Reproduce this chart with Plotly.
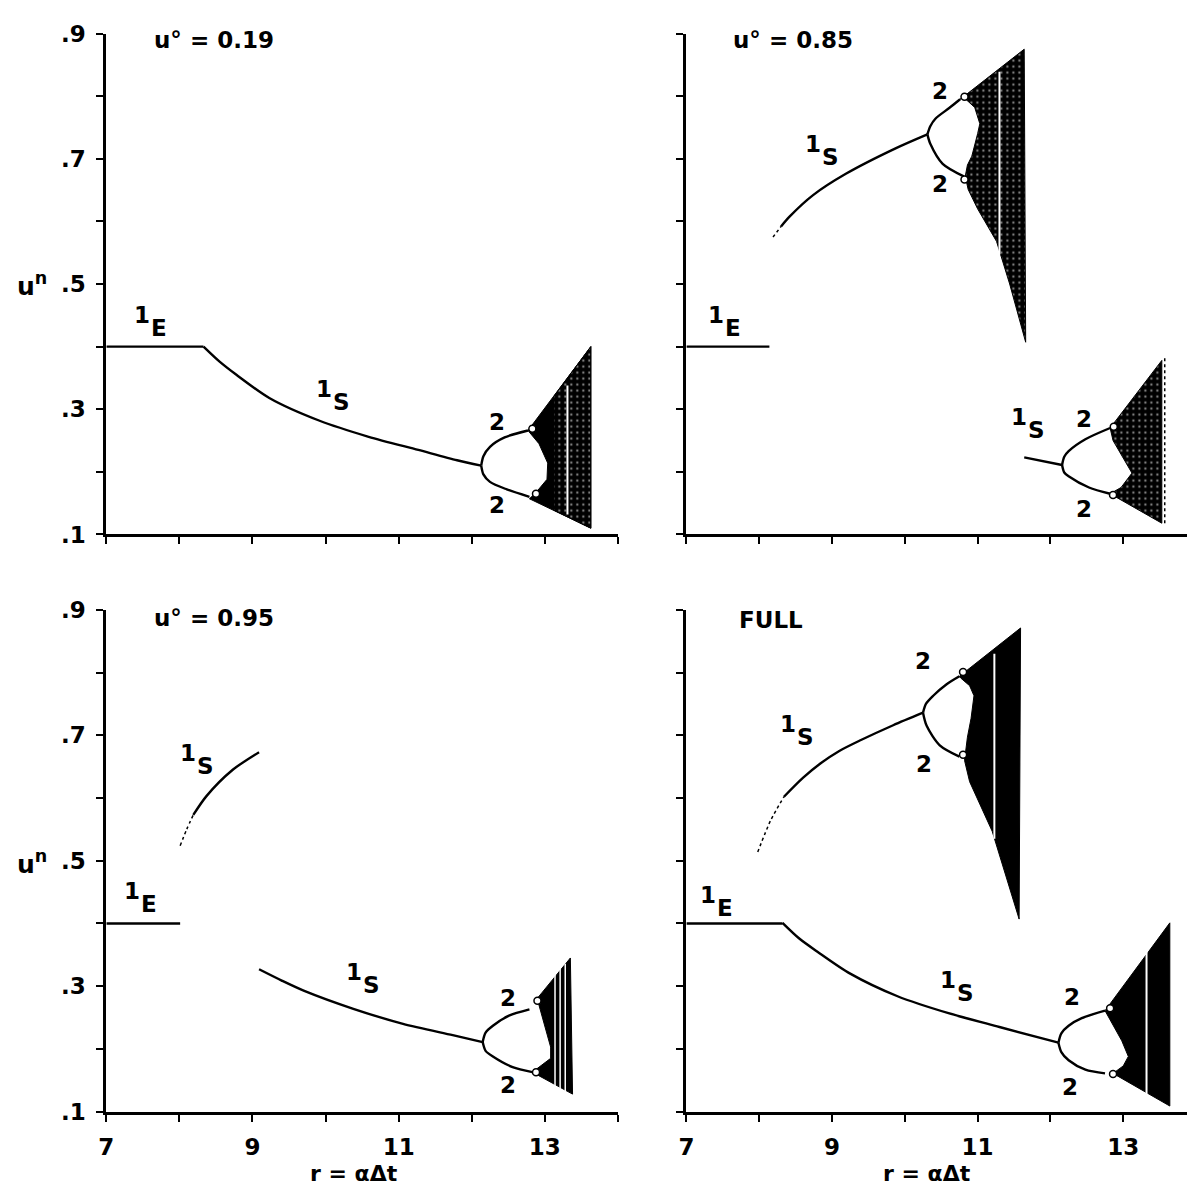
import plotly.graph_objects as go

W, H = 1187, 1201

# ---------------- panel A : u0 = 0.19 ----------------
a_eq_r = [7.0, 8.33]
a_eq_u = [0.40, 0.40]
a_s1_r = [8.33, 8.55, 8.78, 9.23, 9.91, 10.59, 11.27, 11.80, 12.13]
a_s1_u = [0.400, 0.376, 0.355, 0.318, 0.282, 0.256, 0.235, 0.2185, 0.210]
a_p2hi_r = [12.13, 12.16, 12.25, 12.45, 12.77]
a_p2hi_u = [0.210, 0.225, 0.240, 0.255, 0.266]
a_p2lo_r = [12.13, 12.16, 12.25, 12.48, 12.79]
a_p2lo_u = [0.210, 0.196, 0.184, 0.172, 0.160]
a_band_r = [12.77, 13.63, 13.63, 12.79, 12.88, 13.03, 13.04, 12.92, 12.77]
a_band_u = [0.266, 0.400, 0.110, 0.157, 0.167, 0.188, 0.214, 0.245, 0.266]
a_speck_r = [13.12, 13.63, 13.63, 13.12, 13.12]
a_speck_u = [0.320, 0.400, 0.110, 0.139, 0.320]
a_gap_r = [13.31, 13.31]
a_gap_u = [0.132, 0.338]
a_bub_r = [12.83, 12.88]
a_bub_u = [0.269, 0.165]

# ---------------- panel B : u0 = 0.85 ----------------
b_eq_r = [7.0, 8.14]
b_eq_u = [0.40, 0.40]
b_s1dot_r = [8.19, 8.30]
b_s1dot_u = [0.575, 0.592]
b_s1_r = [8.30, 8.42, 8.74, 9.19, 9.88, 10.31]
b_s1_u = [0.592, 0.608, 0.642, 0.676, 0.717, 0.739]
b_p2hi_r = [10.31, 10.35, 10.42, 10.61, 10.76]
b_p2hi_u = [0.739, 0.752, 0.764, 0.781, 0.795]
b_p2lo_r = [10.31, 10.35, 10.52, 10.81]
b_p2lo_u = [0.739, 0.724, 0.692, 0.672]
b_band_r = [10.76, 11.64, 11.66, 11.44, 11.26, 11.00, 10.87, 10.83, 10.86, 10.92, 11.00, 11.03, 10.96, 10.80, 10.76]
b_band_u = [0.795, 0.875, 0.407, 0.500, 0.568, 0.620, 0.651, 0.672, 0.690, 0.704, 0.740, 0.756, 0.782, 0.799, 0.795]
b_gap_r = [11.30, 11.30]
b_gap_u = [0.547, 0.839]
b_bub_r = [10.82, 10.82]
b_bub_u = [0.799, 0.667]
b_s1b_r = [11.64, 12.16]
b_s1b_u = [0.223, 0.211]
b_q2hi_r = [12.16, 12.19, 12.25, 12.48, 12.82]
b_q2hi_u = [0.211, 0.224, 0.233, 0.252, 0.270]
b_q2lo_r = [12.16, 12.19, 12.25, 12.53, 12.82]
b_q2lo_u = [0.211, 0.199, 0.193, 0.175, 0.165]
b_band2_r = [12.82, 13.53, 13.53, 12.82, 12.97, 13.12, 12.86, 12.82]
b_band2_u = [0.270, 0.378, 0.118, 0.165, 0.175, 0.198, 0.250, 0.270]
b_edge2_r = [13.57, 13.57]
b_edge2_u = [0.118, 0.385]
b_bub2_r = [12.87, 12.86]
b_bub2_u = [0.272, 0.163]

# ---------------- panel C : u0 = 0.95 ----------------
c_eq_r = [7.0, 8.01]
c_eq_u = [0.40, 0.40]
c_s1dot_r = [8.01, 8.10, 8.19]
c_s1dot_u = [0.524, 0.550, 0.573]
c_s1_r = [8.19, 8.37, 8.73, 9.09]
c_s1_u = [0.573, 0.603, 0.645, 0.673]
c_s1b_r = [9.09, 9.40, 9.70, 10.38, 11.06, 11.74, 12.15]
c_s1b_u = [0.327, 0.309, 0.293, 0.264, 0.240, 0.222, 0.211]
c_p2hi_r = [12.15, 12.19, 12.29, 12.51, 12.79]
c_p2hi_u = [0.211, 0.226, 0.237, 0.253, 0.263]
c_p2lo_r = [12.15, 12.19, 12.29, 12.56, 12.83]
c_p2lo_u = [0.211, 0.197, 0.188, 0.171, 0.163]
c_band_r = [12.90, 13.35, 13.38, 12.83, 13.08, 13.08, 12.92, 12.90]
c_band_u = [0.281, 0.345, 0.128, 0.163, 0.185, 0.203, 0.270, 0.281]
c_gap_r = [13.14, 13.14, None, 13.21, 13.21, None, 13.28, 13.28]
c_gap_u = [0.140, 0.318, None, 0.137, 0.328, None, 0.133, 0.336]
c_bub_r = [12.90, 12.88]
c_bub_u = [0.277, 0.163]

# ---------------- panel D : full ----------------
d_eq_r = [7.0, 8.32]
d_eq_u = [0.40, 0.40]
d_s1_r = [8.32, 8.55, 8.80, 9.25, 9.90, 10.60, 11.30, 12.11]
d_s1_u = [0.401, 0.376, 0.355, 0.320, 0.284, 0.257, 0.235, 0.210]
d_p2hi_r = [12.11, 12.15, 12.25, 12.43, 12.75]
d_p2hi_u = [0.210, 0.225, 0.237, 0.249, 0.261]
d_p2lo_r = [12.11, 12.15, 12.25, 12.48, 12.75]
d_p2lo_u = [0.210, 0.195, 0.182, 0.167, 0.161]
d_band_r = [12.75, 13.64, 13.64, 12.86, 13.00, 13.07, 12.98, 12.77, 12.75]
d_band_u = [0.261, 0.401, 0.109, 0.161, 0.173, 0.188, 0.213, 0.255, 0.261]
d_gap_r = [13.32, 13.32]
d_gap_u = [0.125, 0.360]
d_bub_r = [12.82, 12.86]
d_bub_u = [0.265, 0.160]
d_updot_r = [7.98, 8.16, 8.34]
d_updot_u = [0.514, 0.565, 0.602]
d_up_r = [8.34, 8.60, 8.84, 9.10, 9.39, 9.84, 10.25]
d_up_u = [0.602, 0.632, 0.655, 0.675, 0.692, 0.716, 0.736]
d_q2hi_r = [10.25, 10.29, 10.39, 10.57, 10.75]
d_q2hi_u = [0.736, 0.750, 0.763, 0.781, 0.794]
d_q2lo_r = [10.25, 10.30, 10.48, 10.75]
d_q2lo_u = [0.736, 0.715, 0.684, 0.666]
d_band2_r = [10.75, 11.59, 11.57, 11.20, 10.89, 10.82, 10.86, 10.91, 10.95, 10.89, 10.77, 10.75]
d_band2_u = [0.794, 0.871, 0.407, 0.547, 0.626, 0.660, 0.697, 0.727, 0.763, 0.779, 0.791, 0.794]
d_gap2_r = [11.23, 11.23]
d_gap2_u = [0.535, 0.830]
d_bub2_r = [10.80, 10.80]
d_bub2_u = [0.801, 0.669]

# ---------------- branch labels: (text, subscript, r, u) ----------------
a_labels = [("1", "E", 7.49, 0.450), ("1", "S", 9.98, 0.333),
            ("2", "", 12.34, 0.279), ("2", "", 12.34, 0.147)]
b_labels = [("1", "S", 8.74, 0.724), ("2", "", 10.49, 0.808), ("2", "", 10.49, 0.660),
            ("1", "E", 7.41, 0.450), ("1", "S", 11.57, 0.287),
            ("2", "", 12.46, 0.284), ("2", "", 12.46, 0.141)]
c_labels = [("1", "S", 8.12, 0.672), ("1", "E", 7.35, 0.452), ("1", "S", 10.39, 0.322),
            ("2", "", 12.49, 0.281), ("2", "", 12.49, 0.143)]
d_labels = [("1", "S", 8.39, 0.718), ("2", "", 10.25, 0.818), ("2", "", 10.27, 0.654),
            ("1", "E", 7.30, 0.445), ("1", "S", 10.59, 0.310),
            ("2", "", 12.30, 0.283), ("2", "", 12.27, 0.140)]

panel_titles = ["u° = 0.19", "u° = 0.85", "u° = 0.95", "FULL"]
y_major = [0.1, 0.3, 0.5, 0.7, 0.9]
y_major_text = [".1", ".3", ".5", ".7", ".9"]
y_minor = [0.2, 0.4, 0.6, 0.8]
y_all = [0.1, 0.2, 0.3, 0.4, 0.5, 0.6, 0.7, 0.8, 0.9]
x_major = [7, 9, 11, 13]
x_major_text = ["7", "9", "11", "13"]
x_minor = [8, 10, 12, 14]
x_all = [7, 8, 9, 10, 11, 12, 13, 14]

FONT = "DejaVu Sans, Liberation Sans, Arial, sans-serif"
INK = "black"

fig = go.Figure()


def line(r, u, ax, width=2.4, dash="solid", shape="spline"):
    style = dict(color=INK, width=width, dash=dash, shape=shape)
    if shape == "spline":
        style["smoothing"] = 0.8
    fig.add_trace(go.Scatter(x=r, y=u, xaxis=ax[0], yaxis=ax[1], mode="lines",
                             line=style, hoverinfo="skip", showlegend=False))


def band(r, u, ax, speckle=False):
    kw = {}
    if speckle:
        kw["fillpattern"] = dict(shape=".", fgcolor="white", bgcolor=INK,
                                 size=6, solidity=0.12)
    fig.add_trace(go.Scatter(x=r, y=u, xaxis=ax[0], yaxis=ax[1], mode="lines",
                             fill="toself", fillcolor=INK,
                             line=dict(color=INK, width=1),
                             hoverinfo="skip", showlegend=False, **kw))


def gap(r, u, ax, width=2.0, color="white", dash="solid"):
    fig.add_trace(go.Scatter(x=r, y=u, xaxis=ax[0], yaxis=ax[1], mode="lines",
                             line=dict(color=color, width=width, dash=dash),
                             hoverinfo="skip", showlegend=False))


def bubbles(r, u, ax, size=7):
    fig.add_trace(go.Scatter(x=r, y=u, xaxis=ax[0], yaxis=ax[1], mode="markers",
                             marker=dict(symbol="circle", size=size, color="white",
                                         line=dict(color=INK, width=1.5)),
                             hoverinfo="skip", showlegend=False))


A = ("x", "y")
B = ("x2", "y2")
C = ("x3", "y3")
D = ("x4", "y4")

# panel A
line(a_eq_r, a_eq_u, A, shape="linear")
line(a_s1_r, a_s1_u, A)
line(a_p2hi_r, a_p2hi_u, A)
line(a_p2lo_r, a_p2lo_u, A)
band(a_band_r, a_band_u, A)
band(a_speck_r, a_speck_u, A, speckle=True)
gap(a_gap_r, a_gap_u, A)
bubbles(a_bub_r, a_bub_u, A)

# panel B
line(b_eq_r, b_eq_u, B, shape="linear")
line(b_s1dot_r, b_s1dot_u, B, width=1.5, dash="dot")
line(b_s1_r, b_s1_u, B)
line(b_p2hi_r, b_p2hi_u, B)
line(b_p2lo_r, b_p2lo_u, B)
band(b_band_r, b_band_u, B, speckle=True)
gap(b_gap_r, b_gap_u, B)
bubbles(b_bub_r, b_bub_u, B)
line(b_s1b_r, b_s1b_u, B, shape="linear")
line(b_q2hi_r, b_q2hi_u, B)
line(b_q2lo_r, b_q2lo_u, B)
band(b_band2_r, b_band2_u, B, speckle=True)
gap(b_edge2_r, b_edge2_u, B, width=1.5, color=INK, dash="dot")
bubbles(b_bub2_r, b_bub2_u, B)

# panel C
line(c_eq_r, c_eq_u, C, shape="linear")
line(c_s1dot_r, c_s1dot_u, C, width=1.5, dash="dot")
line(c_s1_r, c_s1_u, C)
line(c_s1b_r, c_s1b_u, C)
line(c_p2hi_r, c_p2hi_u, C)
line(c_p2lo_r, c_p2lo_u, C)
band(c_band_r, c_band_u, C)
gap(c_gap_r, c_gap_u, C, width=1.5)
bubbles(c_bub_r, c_bub_u, C)

# panel D
line(d_eq_r, d_eq_u, D, shape="linear")
line(d_s1_r, d_s1_u, D)
line(d_p2hi_r, d_p2hi_u, D)
line(d_p2lo_r, d_p2lo_u, D)
band(d_band_r, d_band_u, D)
gap(d_gap_r, d_gap_u, D)
bubbles(d_bub_r, d_bub_u, D)
line(d_updot_r, d_updot_u, D, width=1.5, dash="dot")
line(d_up_r, d_up_u, D)
line(d_q2hi_r, d_q2hi_u, D)
line(d_q2lo_r, d_q2lo_u, D)
band(d_band2_r, d_band2_u, D)
gap(d_gap2_r, d_gap2_u, D)
bubbles(d_bub2_r, d_bub2_u, D)


# ---------------- axes ----------------
def px_x(p):
    return p / W


def px_y(p):
    return 1 - p / H


left_dom = [px_x(99), px_x(614)]
right_dom = [px_x(683), 1.0]
right_range = [7, 7 + (W - 683) / 73.3]
top_dom = [px_y(533), px_y(21)]
bot_dom = [px_y(1123), px_y(610)]

tick_font = dict(family=FONT, size=23, color=INK, weight="bold")
tick_style = dict(ticks="outside", ticklen=7, tickwidth=2, tickcolor=INK)


def axis(domain, rng, anchor, major, major_text, minor, every, labels):
    base = dict(domain=domain, range=rng, anchor=anchor, showline=True,
                linecolor=INK, linewidth=3, tickmode="array",
                showgrid=False, zeroline=False, fixedrange=True)
    if labels:
        base.update(tickvals=major, ticktext=major_text,
                    minor=dict(tickmode="array", tickvals=minor, **tick_style),
                    tickfont=tick_font, ticklabelstandoff=6, **tick_style)
    else:
        # unlabelled axis: every tick mark comes from the minor set
        base.update(tickvals=[], showticklabels=False,
                    minor=dict(tickmode="array", tickvals=every, **tick_style))
    return base


def xax(domain, rng, anchor, labels):
    return axis(domain, rng, anchor, x_major, x_major_text, x_minor, x_all, labels)


def yax(domain, anchor, labels):
    return axis(domain, [0.1, 0.9], anchor, y_major, y_major_text, y_minor, y_all, labels)


fig.update_layout(
    width=W, height=H, margin=dict(l=0, r=0, t=0, b=0),
    paper_bgcolor="white", plot_bgcolor="white", showlegend=False,
    xaxis=xax(left_dom, [7, 14], "y", False),
    yaxis=yax(top_dom, "x", True),
    xaxis2=xax(right_dom, right_range, "y2", False),
    yaxis2=yax(top_dom, "x2", False),
    xaxis3=xax(left_dom, [7, 14], "y3", True),
    yaxis3=yax(bot_dom, "x3", True),
    xaxis4=xax(right_dom, right_range, "y4", True),
    yaxis4=yax(bot_dom, "x4", False),
)

ann = []
label_font = dict(family=FONT, size=23, color=INK, weight="bold")

for labels, ax in ((a_labels, A), (b_labels, B), (c_labels, C), (d_labels, D)):
    for main, sub, r, u in labels:
        ann.append(dict(x=r, y=u, xref=ax[0], yref=ax[1], text=main, showarrow=False,
                        font=label_font, xanchor="center", yanchor="middle"))
        if sub:
            ann.append(dict(x=r, y=u, xref=ax[0], yref=ax[1], text=sub, showarrow=False,
                            font=label_font, xanchor="left", yanchor="middle",
                            xshift=7, yshift=-13))

title_pos = [(207, 28), (790, 28), (207, 618), (768, 620)]
for txt, (px, py) in zip(panel_titles, title_pos):
    ann.append(dict(x=px_x(px), y=px_y(py), xref="paper", yref="paper", text=txt,
                    showarrow=False, font=dict(family=FONT, size=23, color=INK, weight="bold"),
                    xanchor="center", yanchor="middle"))

for py in (277, 868):
    ann.append(dict(x=px_x(24), y=px_y(py), xref="paper", yref="paper",
                    text="u<sup>n</sup>", showarrow=False,
                    font=dict(family=FONT, size=25, color=INK, weight="bold"),
                    xanchor="center", yanchor="middle"))

for px in (348, 925):
    ann.append(dict(x=px_x(px), y=px_y(1186), xref="paper", yref="paper",
                    text="r = αΔt", showarrow=False,
                    font=dict(family=FONT, size=22, color=INK, weight="bold"),
                    xanchor="center", yanchor="middle"))

fig.update_layout(annotations=ann)

# the page body keeps no default margin so the figure sits at the window origin
fig.write_html("out.html",
               post_script="document.body.style.margin='0';document.body.style.overflow='hidden';")
